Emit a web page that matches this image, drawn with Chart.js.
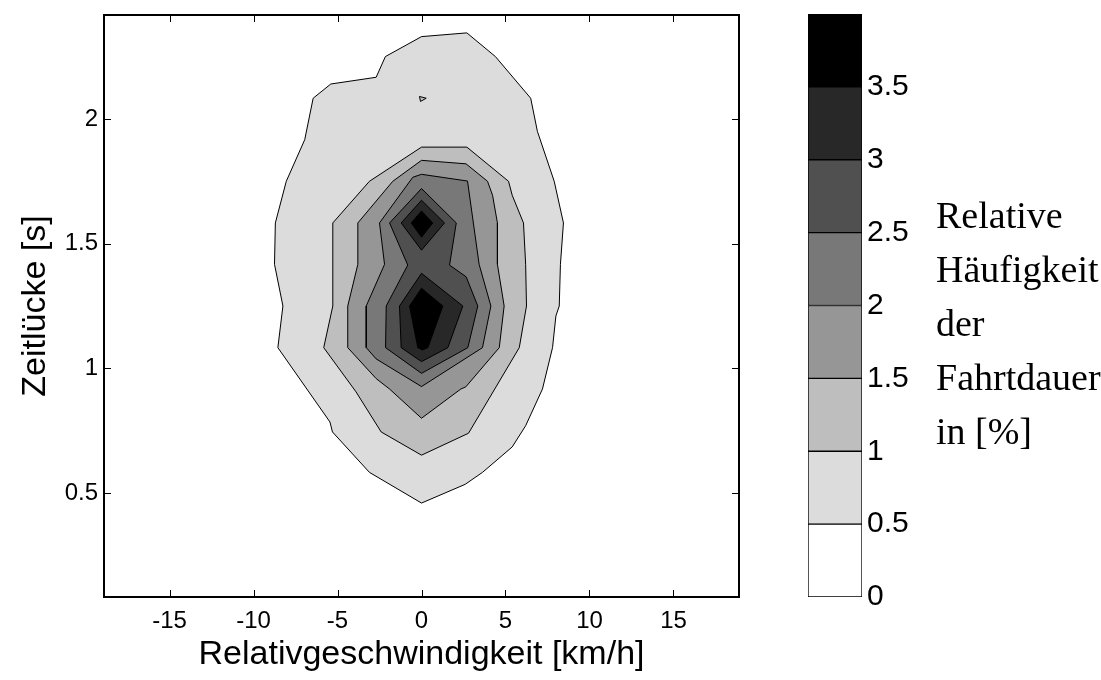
<!DOCTYPE html>
<html>
<head>
<meta charset="utf-8">
<script src="https://cdn.jsdelivr.net/npm/chart.js@4.4.0/dist/chart.umd.min.js"></script>
<style>
  body { margin: 0; background: #fff; }
  #wrap { position: relative; width: 1101px; height: 680px; }
  #plot { position: absolute; left: 0; top: 0; }
  #bar { position: absolute; left: 760px; top: 0; }
  #barTitle {
    position: absolute; left: 936px; top: 188px;
    font-family: "Liberation Serif", "Times New Roman", serif;
    font-size: 38px; line-height: 54px; color: #000;
  }
</style>
</head>
<body>
<div id="wrap">
  <canvas id="plot" width="760" height="680"></canvas>
  <canvas id="bar" width="341" height="680"></canvas>
  <div id="barTitle">Relative<br>Häufigkeit<br>der<br>Fahrtdauer<br>in [%]</div>
</div>
<script>
// contour levels and the grey of the band above each level
var levels = [0, 0.5, 1, 1.5, 2, 2.5, 3, 3.5, 4];
var levelColors = ['#ffffff', '#dcdcdc', '#bebebe', '#969696', '#787878', '#505050', '#282828', '#000000'];

var xTicks = [-15, -10, -5, 0, 5, 10, 15];
var yTicks = [0.5, 1, 1.5, 2];
var barTicks = [0, 0.5, 1, 1.5, 2, 2.5, 3, 3.5];

// contour outlines, [Relativgeschwindigkeit km/h, Zeitluecke s]
var c05 = [[0, 2.33], [2.7, 2.345], [4.4, 2.25], [6.5, 2.083], [6.9, 1.95], [7.9, 1.75], [8.45, 1.583],
  [8.27, 1.417], [8.2, 1.25], [8.0, 1.21], [7.8, 1.083], [7.2, 0.917], [6.2, 0.77], [5.4, 0.685],
  [3.63, 0.583], [2.6, 0.535], [0, 0.46], [-3.1, 0.583], [-5.3, 0.745], [-5.45, 0.785], [-8.55, 1.083],
  [-8.25, 1.25], [-8.75, 1.417], [-8.7, 1.583], [-8.05, 1.75], [-6.95, 1.917], [-6.45, 2.083],
  [-5.4, 2.14], [-2.7, 2.167], [-2.15, 2.25], [0, 2.33]];
var c10 = [[0, 1.887], [2.7, 1.887], [5.18, 1.75], [5.4, 1.694], [6.07, 1.583], [6.2, 1.417], [6.25, 1.25],
  [5.82, 1.083], [2.8, 0.74], [0, 0.652], [-2.4, 0.745], [-3.9, 0.906], [-5.82, 1.083], [-5.28, 1.25],
  [-5.28, 1.583], [-3.1, 1.75], [0, 1.887]];
var c15 = [[0, 1.834], [2.65, 1.82], [3.93, 1.75], [4.23, 1.694], [4.52, 1.583], [4.52, 1.417], [4.92, 1.25],
  [4.63, 1.083], [2.64, 0.926], [2.34, 0.917], [0, 0.8], [-1.9, 0.917], [-2.7, 0.959], [-4.39, 1.083],
  [-4.39, 1.25], [-3.79, 1.417], [-3.79, 1.583], [-1.71, 1.75], [0, 1.834]];
var c20 = [[0, 1.778], [-0.52, 1.766], [-2.5, 1.583], [-2.2, 1.417], [-3.29, 1.25], [-3.29, 1.083],
  [-2.7, 1.038], [0, 0.927], [3.63, 1.083], [4.13, 1.25], [3.43, 1.417], [2.74, 1.751], [0, 1.778]];
var c25 = [[0, 1.721], [2.07, 1.583], [1.67, 1.414], [2.66, 1.367], [3.35, 1.25], [2.76, 1.083], [0, 0.98],
  [-2.14, 1.083], [-2.1, 1.25], [-0.82, 1.414], [-1.9, 1.583], [0, 1.721]];
var c30a = [[0, 1.674], [1.37, 1.583], [0, 1.474], [-1.21, 1.583], [0, 1.674]];
var c30b = [[0, 1.381], [2.46, 1.25], [1.57, 1.083], [0, 1.027], [-1.21, 1.083], [-1.31, 1.25], [0, 1.381]];
var c35a = [[0, 1.631], [0.67, 1.583], [0, 1.526], [-0.61, 1.583], [0, 1.631]];
var c35b = [[0, 1.321], [1.27, 1.25], [0.38, 1.083], [0.06, 1.074], [-0.22, 1.083], [-0.71, 1.25], [0, 1.321]];
var cSpot = [[-0.12, 2.09], [0.28, 2.083], [-0.06, 2.07], [-0.12, 2.09]];

var contours = [
  { level: 0.5, pts: c05 },
  { level: 1, pts: c10 },
  { level: 1, pts: cSpot },
  { level: 1.5, pts: c15 },
  { level: 2, pts: c20 },
  { level: 2.5, pts: c25 },
  { level: 3, pts: c30a },
  { level: 3, pts: c30b },
  { level: 3.5, pts: c35a },
  { level: 3.5, pts: c35b }
];

var sans = "'Liberation Sans', Arial, sans-serif";

function noPad(s) {
  s.paddingTop = 0; s.paddingBottom = 0; s.paddingLeft = 0; s.paddingRight = 0;
}

// frame with inward ticks on all four sides, like the original axes box
var frameTicks = {
  id: 'frameTicks',
  afterDatasetsDraw: function (chart) {
    var ctx = chart.ctx, a = chart.chartArea;
    var xs = chart.scales.x, ys = chart.scales.y;
    var len = 7;
    ctx.save();
    ctx.strokeStyle = '#000';
    ctx.lineWidth = 1;
    ctx.beginPath();
    xTicks.forEach(function (v) {
      var px = Math.round(xs.getPixelForValue(v)) + 0.5;
      ctx.moveTo(px, a.bottom); ctx.lineTo(px, a.bottom - len);
      ctx.moveTo(px, a.top); ctx.lineTo(px, a.top + len);
    });
    yTicks.forEach(function (v) {
      var py = Math.round(ys.getPixelForValue(v)) + 0.5;
      ctx.moveTo(a.left, py); ctx.lineTo(a.left + len, py);
      ctx.moveTo(a.right, py); ctx.lineTo(a.right - len, py);
    });
    ctx.stroke();
    ctx.lineWidth = 2;
    ctx.strokeRect(a.left, a.top, a.right - a.left, a.bottom - a.top);
    ctx.restore();
  }
};

new Chart(document.getElementById('plot'), {
  type: 'scatter',
  data: {
    datasets: contours.map(function (c, i) {
      return {
        data: c.pts.map(function (p) { return { x: p[0], y: p[1] }; }),
        showLine: true,
        fill: 'shape',
        backgroundColor: levelColors[levels.indexOf(c.level)],
        borderColor: '#000',
        borderWidth: 1,
        pointRadius: 0,
        tension: 0,
        order: 100 - i
      };
    })
  },
  options: {
    responsive: false,
    animation: false,
    layout: { padding: { left: 0, top: 15, right: 21, bottom: 0 } },
    plugins: { legend: { display: false }, tooltip: { enabled: false } },
    scales: {
      x: {
        type: 'linear',
        min: -18.9,
        max: 18.9,
        afterBuildTicks: function (s) { s.ticks = xTicks.map(function (v) { return { value: v }; }); },
        afterFit: function (s) { s.height = 83; noPad(s); },
        grid: { display: false, drawTicks: false },
        border: { display: false },
        ticks: {
          color: '#000', padding: 10, maxRotation: 0,
          font: { family: sans, size: 24 },
          callback: function (v) { return String(v); }
        },
        title: {
          display: true, text: 'Relativgeschwindigkeit [km/h]', color: '#000',
          font: { family: sans, size: 34 }, padding: { top: 0, bottom: 5 }
        }
      },
      y: {
        type: 'linear',
        min: 1 / 12,
        max: 29 / 12,
        afterBuildTicks: function (s) { s.ticks = yTicks.map(function (v) { return { value: v }; }); },
        afterFit: function (s) { s.width = 104; noPad(s); },
        grid: { display: false, drawTicks: false },
        border: { display: false },
        ticks: {
          color: '#000', padding: 6,
          font: { family: sans, size: 24 },
          callback: function (v) { return String(v); }
        },
        title: {
          display: true, text: 'Zeitlücke [s]', color: '#000',
          font: { family: sans, size: 34 }, padding: { top: 15, bottom: 0 }
        }
      }
    }
  },
  plugins: [frameTicks]
});

// colour bar: one stacked bar, one segment per band
new Chart(document.getElementById('bar'), {
  type: 'bar',
  data: {
    labels: [''],
    datasets: levelColors.map(function (col, i) {
      return {
        data: [levels[i + 1] - levels[i]],
        backgroundColor: col,
        borderColor: '#000',
        borderWidth: 1,
        borderSkipped: false,
        barPercentage: 1,
        categoryPercentage: 1
      };
    })
  },
  options: {
    responsive: false,
    animation: false,
    layout: { padding: { left: 48, top: 14, right: 179, bottom: 83 } },
    plugins: { legend: { display: false }, tooltip: { enabled: false } },
    scales: {
      x: { stacked: true, display: false },
      y: {
        stacked: true,
        position: 'right',
        min: 0,
        max: 4,
        afterBuildTicks: function (s) { s.ticks = barTicks.map(function (v) { return { value: v }; }); },
        afterFit: function (s) { s.width = 60; noPad(s); },
        grid: { display: false, drawTicks: false },
        border: { display: false },
        ticks: {
          color: '#000', padding: 5,
          font: { family: sans, size: 30 },
          callback: function (v) { return String(v); }
        }
      }
    }
  }
});
</script>
</body>
</html>
